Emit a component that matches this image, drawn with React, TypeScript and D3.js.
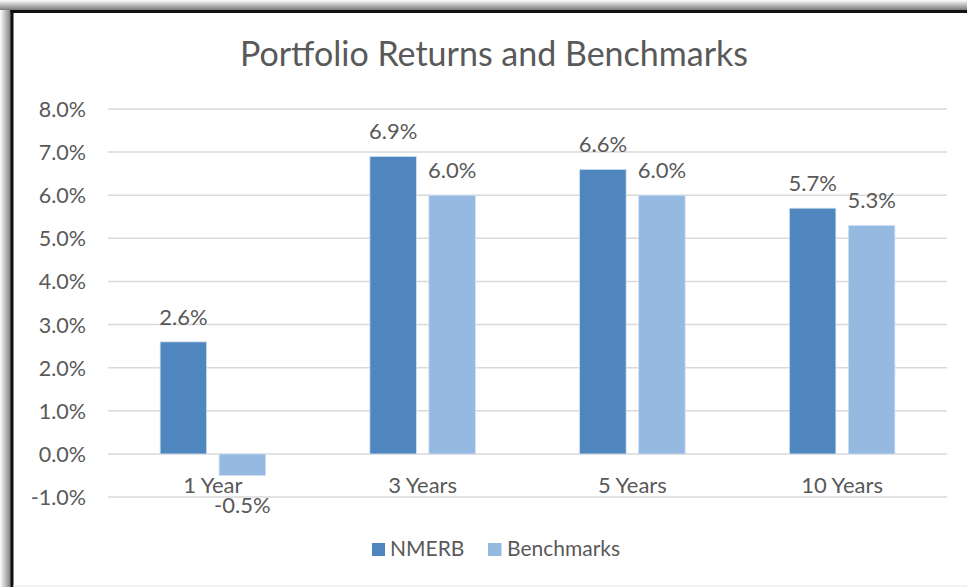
import React, { useEffect } from "react";
import * as d3 from "d3";

const categories = ["1 Year", "3 Years", "5 Years", "10 Years"];
const nmerb = [2.6, 6.9, 6.6, 5.7];
const benchmarks = [-0.5, 6.0, 6.0, 5.3];
const seriesNames = ["NMERB", "Benchmarks"];
const yTicks = [-1, 0, 1, 2, 3, 4, 5, 6, 7, 8];
const title = "Portfolio Returns and Benchmarks";

const W = 967;
const H = 587;
const FONT = "Lato, 'Open Sans', sans-serif";
const TEXT = "#595959";
const COLORS = ["#4f86bd", "#95b9e0"];

export default function App() {
  useEffect(() => {
    document.body.style.margin = "0";
  }, []);

  const x = d3.scaleBand<string>().domain(categories).range([108, 947]).paddingInner(0).paddingOuter(0);
  const y = d3.scaleLinear().domain([-1, 8]).range([497.1, 109]);
  const bw = x.bandwidth();
  const barW = 46.5;
  const gap = 12.5;
  const series = [nmerb, benchmarks];
  const fmt = (v: number) => (d3.format(".1f")(v) + "%").replace("\u2212", "-");

  return (
    <svg width={W} height={H} style={{ position: "absolute", left: 0, top: 0, display: "block" }} fontFamily={FONT}>
      <defs>
        <linearGradient id="shL" x1="0" x2="1" y1="0" y2="0">
          <stop offset="0" stopColor="#ffffff" />
          <stop offset="1" stopColor="#7a7a7a" />
        </linearGradient>
        <linearGradient id="shT" x1="0" x2="0" y1="0" y2="1">
          <stop offset="0" stopColor="#ffffff" />
          <stop offset="1" stopColor="#7a7a7a" />
        </linearGradient>
      </defs>
      <rect x={0} y={0} width={W} height={H} fill="#ffffff" />
      <rect x={0} y={0} width={11} height={H} fill="url(#shL)" />
      <rect x={0} y={0} width={W} height={10} fill="url(#shT)" />
      <rect x={11} y={10} width={W} height={H} fill="#ffffff" />
      <line x1={12} x2={12} y1={10} y2={H} stroke="#111" strokeWidth={3} />
      <line x1={10.5} x2={W} y1={11.5} y2={11.5} stroke="#111" strokeWidth={3} />
      <line x1={13} x2={W} y1={586} y2={586} stroke="#e6e6e6" strokeWidth={1} />

      <text x={494} y={66} textAnchor="middle" fontSize={34} fill={TEXT}>{title}</text>

      {yTicks.map((t) => (
        <g key={t}>
          <line x1={108} x2={947} y1={y(t)} y2={y(t)} stroke="#d9d9d9" strokeWidth={1.5} />
          <text x={86} y={y(t) + 8} textAnchor="end" fontSize={21.5} fill={TEXT}>{fmt(t)}</text>
        </g>
      ))}

      {categories.map((c, i) => {
        const cx = (x(c) as number) + bw / 2;
        return (
          <g key={c}>
            {series.map((s, k) => {
              const v = s[i];
              const bx = cx - gap / 2 - barW + k * (barW + gap);
              const y0 = y(0);
              const yv = y(v);
              const top = Math.min(y0, yv);
              const h = Math.abs(yv - y0);
              return (
                <g key={k}>
                  <rect x={bx} y={top} width={barW} height={h} fill={COLORS[k]} stroke="#cfe0f2" strokeWidth={0.8} />
                  <text
                    x={bx + barW / 2}
                    y={v >= 0 ? yv - 17 : yv + 37.5}
                    textAnchor="middle"
                    fontSize={22}
                    fill={TEXT}
                  >
                    {fmt(v)}
                  </text>
                </g>
              );
            })}
            <text x={cx} y={493} textAnchor="middle" fontSize={22} fill={TEXT}>{c}</text>
          </g>
        );
      })}

      <g>
        <rect x={372} y={543} width={13} height={13} fill={COLORS[0]} />
        <text x={390} y={556} fontSize={21} fill={TEXT}>{seriesNames[0]}</text>
        <rect x={488} y={543} width={13.5} height={13} fill={COLORS[1]} />
        <text x={507} y={556} fontSize={21} fill={TEXT}>{seriesNames[1]}</text>
      </g>
    </svg>
  );
}
